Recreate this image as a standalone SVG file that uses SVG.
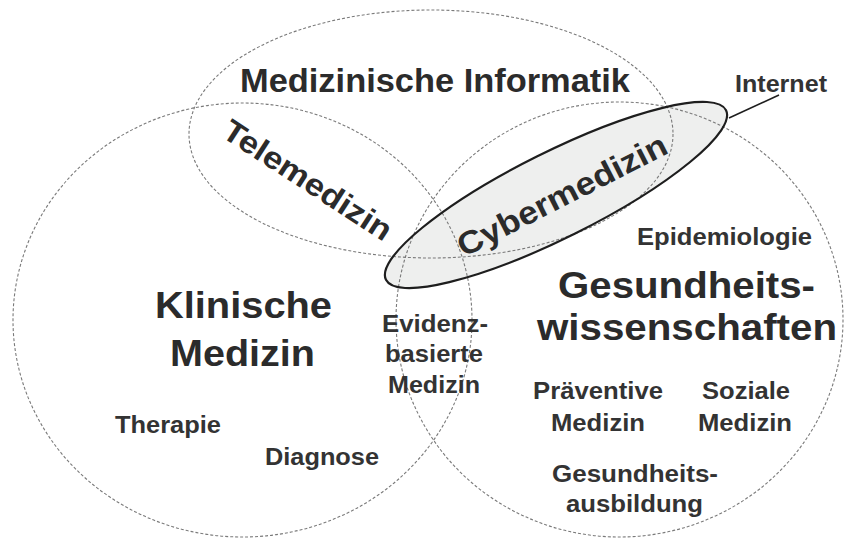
<svg xmlns="http://www.w3.org/2000/svg" width="845" height="540" viewBox="0 0 845 540">
<style>
.area{fill:none;stroke:#7a7a7a;stroke-width:1.1;stroke-dasharray:3 2}
.t{font-family:"Liberation Sans",Arial,sans-serif;font-weight:bold;fill:#2b2b2b;text-anchor:middle}
.big{font-size:37px}
.mid{font-size:33px}
.sm{font-size:23px;fill:#333}
</style>
<rect width="845" height="540" fill="#ffffff"/>
<g id="cybermedizin">
<ellipse cx="556" cy="195" rx="190" ry="43" transform="rotate(-26.5 556 195)" fill="#eeefee" stroke="none"/>
</g>
<g id="medizinische-informatik">
<ellipse class="area" cx="431" cy="134" rx="242" ry="124"/>
<text class="t mid" x="435" y="92" textLength="390" lengthAdjust="spacingAndGlyphs">Medizinische Informatik</text>
</g>
<g id="klinische-medizin">
<ellipse class="area" cx="242.5" cy="320" rx="229.5" ry="217"/>
<text class="t big" x="243.5" y="318" textLength="177" lengthAdjust="spacingAndGlyphs">Klinische</text>
<text class="t big" x="242.5" y="366" textLength="145" lengthAdjust="spacingAndGlyphs">Medizin</text>
<text class="t sm" x="168" y="433" textLength="106" lengthAdjust="spacingAndGlyphs">Therapie</text>
<text class="t sm" x="322" y="465" textLength="114" lengthAdjust="spacingAndGlyphs">Diagnose</text>
</g>
<g id="gesundheitswissenschaften">
<ellipse class="area" cx="619.5" cy="319.5" rx="223.5" ry="217.5"/>
<text class="t big" x="686.5" y="298" textLength="257" lengthAdjust="spacingAndGlyphs">Gesundheits-</text>
<text class="t big" x="687" y="340" textLength="300" lengthAdjust="spacingAndGlyphs">wissenschaften</text>
<text class="t sm" x="724.5" y="245" textLength="175" lengthAdjust="spacingAndGlyphs">Epidemiologie</text>
<text class="t sm" x="598" y="399" textLength="130" lengthAdjust="spacingAndGlyphs">Präventive</text>
<text class="t sm" x="598" y="431" textLength="94" lengthAdjust="spacingAndGlyphs">Medizin</text>
<text class="t sm" x="746" y="399" textLength="88" lengthAdjust="spacingAndGlyphs">Soziale</text>
<text class="t sm" x="745" y="431" textLength="94" lengthAdjust="spacingAndGlyphs">Medizin</text>
<text class="t sm" x="635" y="482" textLength="166" lengthAdjust="spacingAndGlyphs">Gesundheits-</text>
<text class="t sm" x="634.5" y="512" textLength="137" lengthAdjust="spacingAndGlyphs">ausbildung</text>
</g>
<g id="evidenzbasierte-medizin">
<text class="t sm" x="435" y="332" textLength="106" lengthAdjust="spacingAndGlyphs">Evidenz-</text>
<text class="t sm" x="434" y="362" textLength="98" lengthAdjust="spacingAndGlyphs">basierte</text>
<text class="t sm" x="434" y="393" textLength="92" lengthAdjust="spacingAndGlyphs">Medizin</text>
</g>
<g id="telemedizin">
<text class="t" font-size="31" transform="translate(302 189) rotate(33)" x="0" y="0" textLength="195" lengthAdjust="spacingAndGlyphs">Telemedizin</text>
</g>
<g id="cybermedizin-outline">
<ellipse cx="556" cy="195" rx="190" ry="43" transform="rotate(-26.5 556 195)" fill="none" stroke="#1e1e1e" stroke-width="2.2"/>
<text class="t" font-size="32" transform="translate(567 205) rotate(-27)" x="0" y="0" textLength="231" lengthAdjust="spacingAndGlyphs">Cybermedizin</text>
</g>
<g id="internet">
<text class="t sm" x="781" y="92" textLength="92" lengthAdjust="spacingAndGlyphs">Internet</text>
</g>
<g id="connectors">
<line x1="729" y1="118" x2="779" y2="95" stroke="#1e1e1e" stroke-width="1.6"/>
</g>
</svg>
